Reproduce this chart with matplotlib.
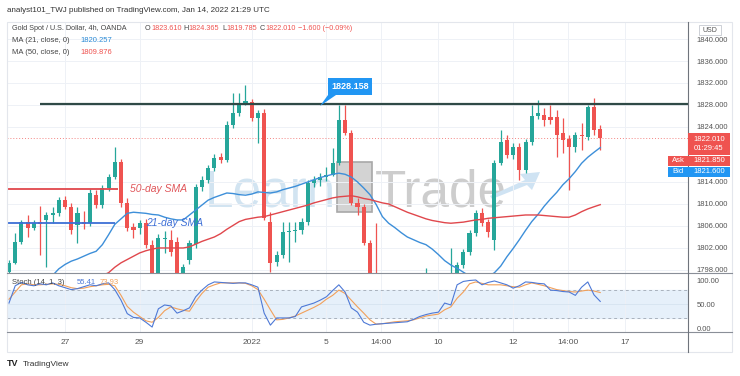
import numpy as np
import matplotlib.pyplot as plt
from matplotlib.patches import Rectangle, Polygon
from matplotlib.lines import Line2D

# === 4h candles (XAUUSD, OANDA) ===
opens = [1797.6, 1799.3, 1803.1, 1806.7, 1805.7, 1806.6, 1807.1, 1808.0, 1808.4, 1810.7,
         1809.5, 1806.2, 1806.8, 1806.5, 1811.6, 1809.8, 1812.9, 1814.9, 1817.6, 1810.2,
         1805.8, 1805.6, 1806.5, 1802.5, 1796.5, 1803.6, 1803.5, 1803.0, 1797.0, 1799.8,
         1802.7, 1813.1, 1814.4, 1816.5, 1818.5, 1818.0, 1824.4, 1826.5, 1828.4, 1828.6,
         1825.6, 1826.5, 1806.7, 1799.5, 1800.7, 1804.9, 1805.1, 1805.3, 1806.7, 1813.8,
         1814.4, 1814.9, 1815.3, 1817.5, 1825.3, 1822.9, 1810.2, 1809.5, 1802.9, 1797.0,
         1792.5, 1790.5, 1792.0, 1790.0, 1792.5, 1791.0, 1794.0, 1792.0, 1795.5, 1793.0,
         1795.0, 1794.0, 1796.5, 1798.9, 1801.3, 1804.7, 1808.4, 1806.7, 1803.5, 1817.5,
         1821.6, 1818.9, 1820.4, 1816.2, 1821.3, 1826.0, 1826.2, 1825.8, 1825.8, 1822.9,
         1821.8, 1820.4, 1822.6, 1822.2, 1827.6, 1823.61]
highs = [1799.8, 1804.7, 1807.1, 1808.0, 1807.0, 1809.6, 1808.5, 1809.5, 1811.3, 1811.5,
         1810.2, 1809.5, 1808.7, 1812.8, 1812.5, 1813.5, 1815.5, 1820.4, 1818.2, 1811.0,
         1806.5, 1807.0, 1807.2, 1803.5, 1804.5, 1805.0, 1805.2, 1804.0, 1799.0, 1803.5,
         1813.6, 1815.0, 1817.0, 1819.0, 1819.2, 1825.0, 1830.2, 1830.2, 1831.6, 1829.0,
         1827.0, 1827.2, 1808.5, 1801.5, 1806.7, 1806.7, 1806.8, 1807.4, 1814.3, 1815.0,
         1815.6, 1816.8, 1820.2, 1828.0, 1828.0, 1823.5, 1811.0, 1810.0, 1803.4, 1806.5,
         1795.5, 1794.0, 1796.5, 1793.5, 1796.0, 1795.0, 1796.8, 1798.4, 1797.0, 1796.5,
         1797.2, 1802.0, 1799.4, 1801.8, 1805.2, 1808.9, 1809.2, 1807.2, 1818.0, 1823.5,
         1822.5, 1821.0, 1821.0, 1821.8, 1828.0, 1828.9, 1827.5, 1828.0, 1827.0, 1825.6,
         1822.5, 1823.0, 1824.8, 1828.0, 1829.3, 1824.365]
lows = [1796.5, 1799.0, 1802.8, 1804.0, 1805.2, 1800.8, 1798.5, 1806.6, 1807.8, 1809.0,
        1804.5, 1802.9, 1805.5, 1806.0, 1809.3, 1809.2, 1812.3, 1814.5, 1809.5, 1805.0,
        1803.8, 1804.5, 1802.0, 1795.0, 1795.5, 1801.0, 1800.5, 1796.0, 1795.5, 1799.0,
        1802.0, 1812.4, 1813.8, 1816.0, 1817.4, 1817.6, 1823.8, 1826.0, 1828.0, 1825.0,
        1821.1, 1807.0, 1797.6, 1798.8, 1800.2, 1799.5, 1803.0, 1804.6, 1806.2, 1813.0,
        1813.3, 1814.2, 1815.0, 1817.0, 1822.5, 1809.8, 1808.0, 1802.5, 1795.0, 1790.0,
        1788.0, 1787.0, 1789.0, 1786.5, 1789.5, 1788.0, 1790.5, 1790.0, 1791.5, 1790.5,
        1792.5, 1792.0, 1795.5, 1798.4, 1800.8, 1804.2, 1806.0, 1804.0, 1801.6, 1817.0,
        1818.4, 1818.2, 1814.4, 1815.7, 1820.8, 1825.5, 1824.2, 1824.5, 1818.5, 1819.3,
        1812.5, 1819.5, 1819.8, 1821.6, 1822.6, 1819.785]
closes = [1799.3, 1803.1, 1806.7, 1805.6, 1806.6, 1806.4, 1808.0, 1808.3, 1810.7, 1809.5,
          1805.3, 1808.4, 1806.3, 1812.0, 1809.8, 1812.9, 1814.9, 1817.6, 1810.2, 1805.6,
          1805.3, 1806.5, 1802.5, 1796.5, 1803.8, 1803.9, 1801.3, 1797.0, 1798.5, 1802.9,
          1813.1, 1814.4, 1816.5, 1818.4, 1818.0, 1824.4, 1826.5, 1828.4, 1828.7, 1825.6,
          1826.5, 1807.5, 1799.3, 1800.7, 1804.9, 1805.1, 1805.3, 1806.7, 1813.8, 1814.4,
          1814.9, 1815.2, 1817.5, 1825.3, 1822.9, 1810.2, 1809.5, 1802.9, 1797.0, 1792.5,
          1790.5, 1792.0, 1790.0, 1792.5, 1791.0, 1794.0, 1792.0, 1795.5, 1793.0, 1795.0,
          1794.0, 1796.5, 1798.9, 1801.3, 1804.7, 1808.4, 1806.5, 1804.9, 1817.5, 1821.3,
          1818.9, 1820.4, 1816.2, 1821.3, 1826.0, 1826.5, 1825.3, 1825.2, 1822.5, 1821.6,
          1820.4, 1822.5, 1822.3, 1827.6, 1823.5, 1822.01]

# === Moving averages ===
ma21 = [1789.5, 1790.5, 1791.5, 1792.5, 1793.5, 1794.5, 1795.8, 1797.0, 1798.2, 1799.0,
        1799.6, 1800.0, 1800.5, 1801.0, 1801.4, 1802.6, 1804.4, 1806.3, 1807.3, 1808.3,
        1808.5, 1808.4, 1808.3, 1808.1, 1808.0, 1807.6, 1807.3, 1807.1, 1807.1, 1808.0,
        1808.9, 1809.8, 1810.7, 1811.2, 1811.6, 1812.0, 1811.9, 1811.7, 1811.6, 1811.8,
        1812.2, 1812.1, 1812.0, 1812.2, 1812.6, 1812.9, 1813.2, 1813.6, 1814.0, 1814.4,
        1814.8, 1815.1, 1815.4, 1815.6, 1815.4, 1814.9, 1814.0, 1812.9, 1811.7, 1809.9,
        1807.7, 1806.5, 1805.7, 1804.8, 1804.0, 1803.5, 1803.0, 1802.6, 1801.8, 1800.8,
        1799.7, 1798.9, 1798.3, 1797.6, 1796.9, 1796.5, 1796.4, 1796.8, 1797.5, 1798.7,
        1800.4, 1801.9, 1803.5, 1805.2, 1806.8, 1808.1, 1809.6, 1810.9, 1812.1, 1813.5,
        1814.6, 1815.9, 1817.4, 1818.5, 1819.4, 1820.257]
ma50 = [1791.0, 1791.4, 1791.8, 1792.2, 1792.6, 1793.0, 1793.4, 1793.8, 1794.2, 1794.6,
        1795.0, 1795.4, 1795.8, 1796.2, 1796.6, 1797.0, 1797.5, 1798.5, 1799.3, 1799.9,
        1800.5, 1801.1, 1801.5, 1801.8, 1802.0, 1802.0, 1802.0, 1802.0, 1802.0, 1802.2,
        1802.7, 1803.2, 1803.6, 1804.0, 1804.6, 1805.4, 1806.1, 1806.8, 1807.2, 1807.4,
        1807.6, 1807.7, 1808.0, 1808.3, 1808.6, 1808.9, 1809.2, 1809.5, 1809.8, 1810.2,
        1810.5, 1810.8, 1811.1, 1811.3, 1811.4, 1811.5, 1811.3, 1811.0, 1810.8, 1810.5,
        1810.2, 1810.0, 1809.5, 1809.0, 1808.5, 1808.1, 1807.7, 1807.3, 1807.0, 1806.8,
        1806.6, 1806.5, 1806.6, 1806.7, 1806.9, 1807.1, 1807.2, 1807.4, 1807.5, 1807.6,
        1807.7, 1807.8, 1807.9, 1808.0, 1808.0, 1808.0, 1807.9, 1807.8, 1807.7, 1807.6,
        1807.6, 1808.0, 1808.6, 1809.1, 1809.5, 1809.876]

# === Stochastic (14, 1, 3) ===
stoch_k = [52, 88, 95, 90, 88, 92, 90, 94, 88, 84, 80, 82, 86, 90, 88, 92, 94, 80, 58, 30,
           22, 21, 12, 2, 40, 48, 46, 31, 36, 42, 65, 79, 90, 96, 95, 94, 93, 94, 94, 90,
           85, 31, 6, 21, 21, 21, 24, 44, 48, 52, 58, 65, 78, 90, 75, 42, 33, 12, 6, 8,
           9, 10, 11, 12, 13, 18, 24, 28, 31, 33, 52, 48, 90, 97, 99, 100, 90, 95, 98, 94,
           90, 83, 88, 96, 95, 93, 92, 79, 78, 76, 75, 68, 85, 96, 69, 55.41]
stoch_d = [60, 75, 90, 92, 90, 90, 91, 92, 91, 88, 84, 82, 83, 86, 88, 90, 91, 88, 68, 45,
           33, 24, 15, 12, 22, 36, 44, 40, 37, 35, 55, 72, 85, 90, 94, 94, 94, 94, 93, 88,
           80, 60, 38, 17, 18, 21, 25, 31, 37, 43, 50, 60, 68, 79, 72, 58, 44, 31, 17, 8,
           9, 11, 13, 14, 15, 17, 21, 25, 27, 29, 38, 44, 62, 75, 92, 96, 93, 90, 90, 90,
           88, 86, 85, 90, 94, 91, 88, 84, 80, 78, 76, 75, 77, 79, 77, 73.93]

# === Axis ticks ===
time_ticks = [9, 21, 39, 51, 59.75, 69, 81, 89.75, 99]
time_labels = ["27", "29", "2022", "5", "14:00", "10", "12", "14:00", "17"]
price_ticks = [1840, 1836, 1832, 1828, 1824, 1814, 1810, 1806, 1802, 1798]
stoch_ticks = [100, 50, 0]

resistance = 1828.158
last_price = 1822.01

GREEN = "#26a69a"
RED = "#ef5350"
GRID = "#eef1f6"
TXT = "#555555"

plt.rcParams["font.family"] = ["Liberation Sans", "DejaVu Sans"]

W, H = 740, 376


def fx(x):
    return x / W


def fy(y):
    return 1 - y / H


fig = plt.figure(figsize=(7.4, 3.76), dpi=100)
fig.patch.set_facecolor("white")

ax = fig.add_axes([fx(7), fy(273), (688 - 7) / W, (273 - 23) / H])
ax2 = fig.add_axes([fx(7), fy(332), (688 - 7) / W, (332 - 273) / H])

idx = np.arange(len(opens))
o = np.array(opens)
h = np.array(highs)
l = np.array(lows)
c = np.array(closes)
col = np.where(c >= o, GREEN, RED)

# === Watermark ===
tf = fig.transFigure
ax.text(fx(205), fy(207), "Learn", transform=tf, fontsize=37, color="#d2e4f1",
        va="baseline", ha="left", zorder=1)
ax.add_patch(Rectangle((fx(337), fy(212)), 35 / W, 50 / H, transform=tf,
                       facecolor="#d3d3d3", edgecolor="#a8a8a8", lw=1.2, zorder=1))
ax.text(fx(375), fy(207), "Trade", transform=tf, fontsize=37, color="#cdcdcd",
        va="baseline", ha="left", zorder=1)
ax.add_patch(Polygon([(fx(490), fy(196)), (fx(525), fy(180)), (fx(520), fy(174)),
                      (fx(540), fy(172)), (fx(532), fy(190)), (fx(527), fy(185)),
                      (fx(492), fy(199))], closed=True, transform=tf,
                     facecolor="#cfe3f3", edgecolor="none", zorder=1))

# === Candles ===
ax.vlines(idx, l, h, colors=col, lw=0.9, zorder=3)
body = np.maximum(np.abs(c - o), 0.25)
ax.bar(idx, body, bottom=np.minimum(o, c), width=0.66, color=col, zorder=4)

# === MAs ===
ax.plot(idx, ma21, color="#3d8fd9", lw=1.0, zorder=5)
ax.plot(idx, ma50, color="#e0474c", lw=1.0, zorder=5)

# === Drawings ===
xmin, xmax = -0.32, 109.1
ax.hlines(resistance, 5, xmax, color="#2f4a46", lw=1.6, zorder=6)
ax.hlines(1812.7, xmin, 17.5, color="#e0474c", lw=1.3, zorder=6)
ax.hlines(1806.5, xmin, 17.0, color="#3d6fd6", lw=1.3, zorder=6)
ax.text(19.4, 1812.7, "50-day SMA", color="#e0575b", style="italic", fontsize=7.5,
        va="center", zorder=7)
ax.text(22.1, 1806.5, "21-day SMA", color="#3d6fd6", style="italic", fontsize=7.5,
        va="center", zorder=7)
ax.axhline(last_price, color=RED, ls=(0, (1, 2)), lw=0.7, alpha=0.7, zorder=2)

# callout
ax.add_patch(Rectangle((fx(328), fy(95)), 44 / W, 17 / H, transform=tf,
                       facecolor="#2196f3", edgecolor="none", zorder=8))
ax.add_patch(Polygon([(fx(320), fy(106)), (fx(328), fy(95)), (fx(336), fy(95))],
                     closed=True, transform=tf, facecolor="#2196f3",
                     edgecolor="none", zorder=8))
ax.text(fx(350), fy(86.5), f"{resistance:.3f}", transform=tf, color="white",
        fontsize=6.5, fontweight="bold", ha="center", va="center", zorder=9)

ax.set_xlim(xmin, xmax)
ax.set_ylim(1797.45, 1842.91)
ax.set_xticks(time_ticks)
ax.tick_params(axis="x", length=0, labelbottom=False)
ax.yaxis.tick_right()
ax.set_yticks(price_ticks)
ax.set_yticklabels([f"{p:.3f}" for p in price_ticks])
ax.tick_params(axis="y", length=0, pad=6, labelsize=5.5, labelcolor=TXT)
ax.grid(True, color=GRID, lw=0.7, zorder=0)
for s in ax.spines.values():
    s.set_visible(False)

# === Stoch pane ===
ax2.axhspan(20, 80, color="#e6f0fa", zorder=1)
ax2.axhline(80, color="#a9b2bd", ls=(0, (3, 3)), lw=0.7, zorder=2)
ax2.axhline(20, color="#a9b2bd", ls=(0, (3, 3)), lw=0.7, zorder=2)
ax2.axhline(50, color="#d6e3f0", lw=0.6, zorder=2)
ax2.plot(idx, stoch_d, color="#f2a05a", lw=0.8, zorder=3)
ax2.plot(idx, stoch_k, color="#4e79d6", lw=0.8, zorder=4)
ax2.set_xlim(xmin, xmax)
ax2.set_ylim(-8.3, 114.6)
ax2.set_xticks(time_ticks)
ax2.set_xticklabels(time_labels)
ax2.tick_params(axis="x", length=0, pad=5, labelsize=6, labelcolor=TXT)
ax2.yaxis.tick_right()
ax2.set_yticks(stoch_ticks)
ax2.set_yticklabels([f"{v:.2f}" for v in stoch_ticks])
ax2.tick_params(axis="y", length=0, pad=6, labelsize=5.5, labelcolor=TXT)
ax2.grid(True, axis="x", color=GRID, lw=0.7, zorder=0)
for s in ax2.spines.values():
    s.set_visible(False)

# === Frame and separators ===
fig.add_artist(Rectangle((fx(7), fy(352)), 725 / W, 330 / H, transform=tf,
                         facecolor="none", edgecolor="#e3e6ec", lw=0.8))
for y in (273, 332):
    fig.add_artist(Line2D([fx(7), fx(732)], [fy(y), fy(y)], transform=tf,
                          color="#8a8f98", lw=0.8))
fig.add_artist(Line2D([fx(688), fx(688)], [fy(22), fy(352)], transform=tf,
                      color="#6f747c", lw=0.8))


# === Price scale boxes ===
def box(x0, y0, x1, y1, color, text, tcolor="white", size=5.5):
    fig.add_artist(Rectangle((fx(x0), fy(y1)), (x1 - x0) / W, (y1 - y0) / H,
                             transform=tf, facecolor=color, edgecolor="none", zorder=5))
    if text:
        fig.text(fx((x0 + x1) / 2), fy((y0 + y1) / 2), text, color=tcolor,
                 fontsize=size, ha="center", va="center", zorder=6)


box(688, 133, 730, 155, RED, None)
fig.text(fx(709), fy(139), "1822.010", color="white", fontsize=5.5, ha="center",
         va="center", zorder=6)
fig.text(fx(709), fy(149), "01:29:45", color="white", fontsize=5.5, ha="center",
         va="center", zorder=6)
box(668, 156, 688, 166, RED, "Ask")
box(688, 156, 730, 166, RED, "1821.850")
box(668, 167, 688, 177, "#2196f3", "Bid")
box(688, 167, 730, 177, "#2196f3", "1821.600")
fig.add_artist(Rectangle((fx(699), fy(35)), 22 / W, 10 / H, transform=tf,
                         facecolor="white", edgecolor="#c5c9d0", lw=0.6, zorder=5))
fig.text(fx(710), fy(30), "USD", color=TXT, fontsize=5, ha="center", va="center", zorder=6)

# === Texts ===
fig.text(fx(7), fy(10), "analyst101_TWJ published on TradingView.com, Jan 14, 2022 21:29 UTC",
         fontsize=5.8, color="#333333", va="center")
hy = fy(28)
fig.text(fx(12), hy, "Gold Spot / U.S. Dollar, 4h, OANDA", fontsize=5.2, color="#444444",
         va="center")
for x, lab, gap, val in [(145, "O", 6, "1823.610"), (183, "H", 5.5, "1824.365"),
                         (222, "L", 4.5, "1819.785"), (260, "C", 5.5, "1822.010")]:
    fig.text(fx(x), hy, lab, fontsize=5.2, color="#444444", va="center")
    fig.text(fx(x + gap), hy, val, fontsize=5.2, color=RED, va="center")
fig.text(fx(298), hy, "\u22121.600 (\u22120.09%)", fontsize=5.2, color=RED, va="center")
fig.text(fx(12), fy(40), "MA (21, close, 0)", fontsize=5.5, color="#444444", va="center")
fig.text(fx(80), fy(40), "1820.257", fontsize=5.5, color="#2a8ad6", va="center")
fig.text(fx(12), fy(52), "MA (50, close, 0)", fontsize=5.5, color="#444444", va="center")
fig.text(fx(80), fy(52), "1809.876", fontsize=5.5, color=RED, va="center")

fig.text(fx(12), fy(283), "Stoch (14, 1, 3)", fontsize=5.5, color="#444444", va="center",
         zorder=6)
fig.text(fx(77), fy(283), "55.41", fontsize=5.5, color="#4e79d6", va="center", zorder=6)
fig.text(fx(100), fy(283), "73.93", fontsize=5.5, color="#f2a05a", va="center", zorder=6)

fig.text(fx(7), fy(364), "TV", fontsize=6.5, fontweight="bold", color="#222222", va="center")
fig.text(fx(23), fy(364), "TradingView", fontsize=6, color="#333333", va="center")

fig.savefig("out.png", dpi=100)
